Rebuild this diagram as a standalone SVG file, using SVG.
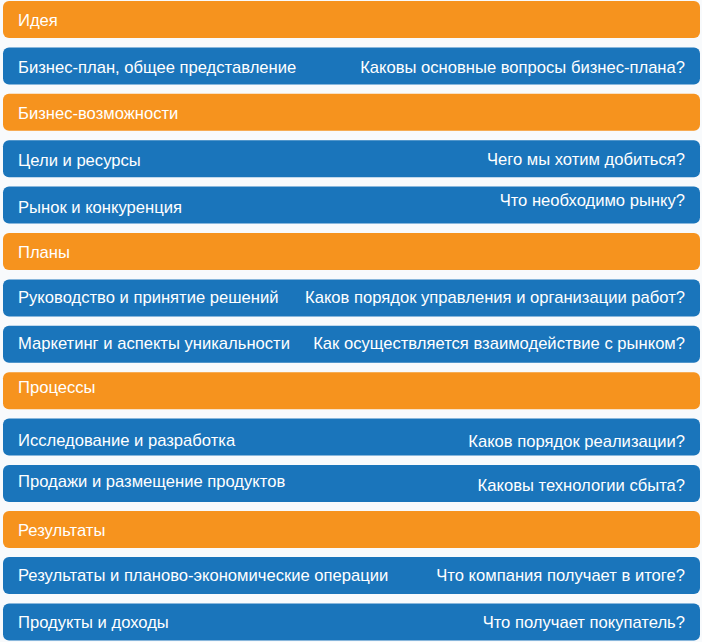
<svg xmlns="http://www.w3.org/2000/svg" width="702" height="642" viewBox="0 0 702 642">
<style>
.bg{fill:#F8FAFC}
.o{fill:#F6931E}
.b{fill:#1A75BB}
text{font-family:"Liberation Sans",Arial,Helvetica,sans-serif;font-size:16.6px;fill:#FFFFFF}
.r{text-anchor:end}
</style>
<rect class="bg" x="0" y="0" width="702" height="642"/>
<g id="n1"><rect class="o" x="3" y="1" width="697" height="37" rx="6"/><text x="18" y="26">Идея</text></g>
<g id="n2"><rect class="b" x="3" y="47.4" width="697" height="37" rx="6"/><text x="18" y="73">Бизнес-план, общее представление</text><text class="r" x="685" y="73">Каковы основные вопросы бизнес-плана?</text></g>
<g id="n3"><rect class="o" x="3" y="93.8" width="697" height="37" rx="6"/><text x="18" y="119">Бизнес-возможности</text></g>
<g id="n4"><rect class="b" x="3" y="140.2" width="697" height="37" rx="6"/><text x="18" y="166">Цели и ресурсы</text><text class="r" x="685" y="165">Чего мы хотим добиться?</text></g>
<g id="n5"><rect class="b" x="3" y="186.6" width="697" height="37" rx="6"/><text x="18" y="212.7">Рынок и конкуренция</text><text class="r" x="685" y="206">Что необходимо рынку?</text></g>
<g id="n6"><rect class="o" x="3" y="233" width="697" height="37" rx="6"/><text x="18" y="257.7">Планы</text></g>
<g id="n7"><rect class="b" x="3" y="279.4" width="697" height="37" rx="6"/><text x="18" y="303.2">Руководство и принятие решений</text><text class="r" x="685" y="303.2">Каков порядок управления и организации работ?</text></g>
<g id="n8"><rect class="b" x="3" y="325.8" width="697" height="37" rx="6"/><text x="18" y="349.3">Маркетинг и аспекты уникальности</text><text class="r" x="685" y="349.3">Как осуществляется взаимодействие с рынком?</text></g>
<g id="n9"><rect class="o" x="3" y="372.2" width="697" height="37" rx="6"/><text x="18" y="393">Процессы</text></g>
<g id="n10"><rect class="b" x="3" y="418.6" width="697" height="37" rx="6"/><text x="18" y="445.7">Исследование и разработка</text><text class="r" x="685" y="446.7">Каков порядок реализации?</text></g>
<g id="n11"><rect class="b" x="3" y="465" width="697" height="37" rx="6"/><text x="18" y="486.7">Продажи и размещение продуктов</text><text class="r" x="685" y="491">Каковы технологии сбыта?</text></g>
<g id="n12"><rect class="o" x="3" y="511" width="697" height="37" rx="6"/><text x="18" y="536">Результаты</text></g>
<g id="n13"><rect class="b" x="3" y="557" width="697" height="37" rx="6"/><text x="18" y="580.5">Результаты и планово-экономические операции</text><text class="r" x="685" y="580.5">Что компания получает в итоге?</text></g>
<g id="n14"><rect class="b" x="3" y="603.5" width="697" height="37" rx="6"/><text x="18" y="627.5">Продукты и доходы</text><text class="r" x="685" y="627.5">Что получает покупатель?</text></g>
</svg>
